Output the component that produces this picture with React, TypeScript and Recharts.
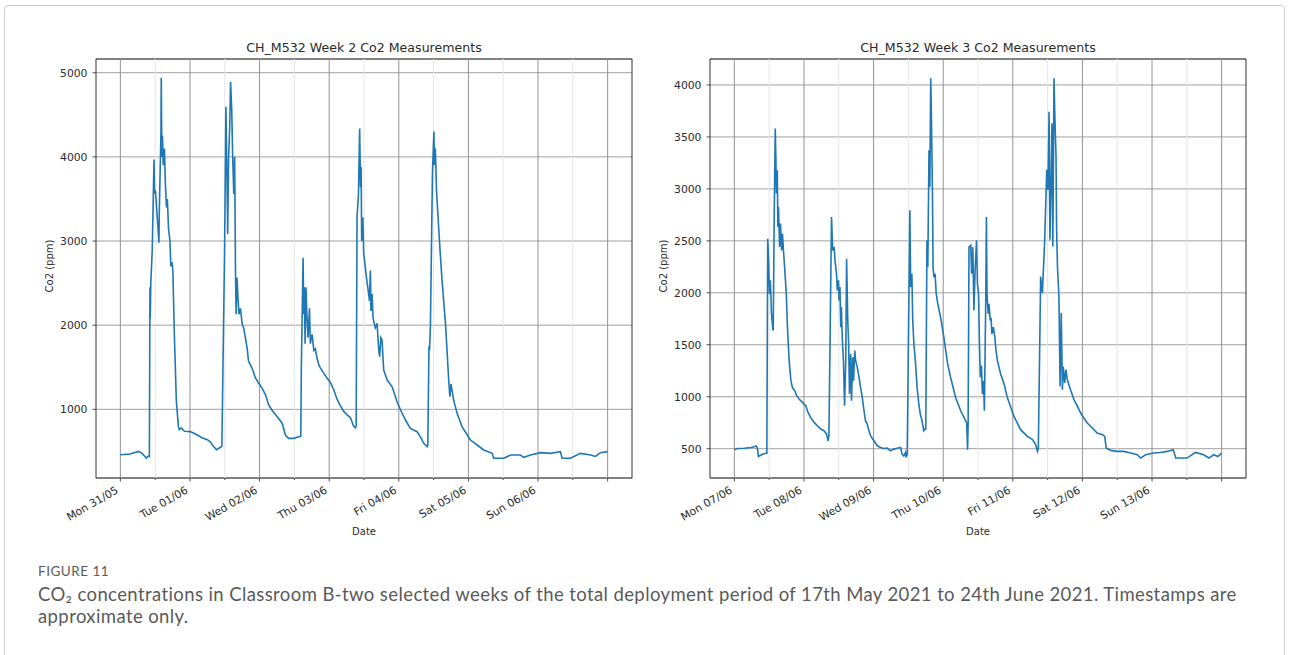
import React from "react";
import {
  LineChart,
  Line,
  XAxis,
  YAxis,
  CartesianGrid,
  ReferenceLine,
  ReferenceArea,
} from "recharts";

// hours since Monday 00:00 of each week
const majorHours = [0, 24, 48, 72, 96, 120, 144, 168];
const minorHours = [12, 36, 60, 84, 108, 132, 156];
const xDomain: [number, number] = [-8.4, 176.4];

const week2Days = ["Mon 31/05", "Tue 01/06", "Wed 02/06", "Thu 03/06", "Fri 04/06", "Sat 05/06", "Sun 06/06"];
const week3Days = ["Mon 07/06", "Tue 08/06", "Wed 09/06", "Thu 10/06", "Fri 11/06", "Sat 12/06", "Sun 13/06"];

const week2Ticks = [1000, 2000, 3000, 4000, 5000];
const week3Ticks = [500, 1000, 1500, 2000, 2500, 3000, 3500, 4000];

// [hour, ppm]
const week2Readings: [number, number][] = [
  [0, 460], [3.4, 470], [6.2, 500], [7.4, 480], [9.0, 420], [9.7, 445], [10.0, 440],
  [10.2, 2450], [10.3, 2080], [10.5, 2500], [11.0, 2900], [11.6, 3970], [11.8, 3560],
  [12.1, 3600], [13.3, 2980], [13.4, 3300], [14.0, 4300], [14.1, 4940], [14.3, 4000],
  [14.5, 4250], [14.8, 3900], [15.2, 4100], [15.5, 3700], [15.9, 3400], [16.2, 3500],
  [16.6, 3150], [17.1, 3000], [17.4, 2700], [17.8, 2750], [18.1, 2650], [18.6, 1900],
  [19.3, 1100], [20.0, 800], [20.3, 760], [21.0, 780], [22.1, 740], [24.1, 735],
  [26.2, 700], [28.3, 660], [30.0, 640], [31.0, 615], [32.1, 560], [33.1, 520],
  [34.1, 540], [35.0, 560], [35.9, 2805], [36.4, 4594], [36.8, 3640], [37.0, 3083],
  [37.3, 3960], [37.7, 4356], [38.0, 4893], [38.4, 4555], [38.7, 4038], [39.1, 3560],
  [39.4, 4000], [39.7, 2606], [39.9, 2129], [40.2, 2566], [40.6, 2300], [40.9, 2130],
  [41.4, 2200], [42.0, 2010], [42.5, 1970], [43.1, 1850], [43.7, 1730], [44.2, 1570],
  [45.4, 1490], [46.6, 1370], [47.7, 1310], [48.9, 1250], [50.0, 1175], [51.1, 1055],
  [52.3, 990], [54.0, 915], [55.8, 835], [56.9, 695], [58.0, 655], [59.8, 655],
  [61.5, 675], [62.2, 680], [62.4, 1500], [63.0, 2800], [63.2, 2130], [63.4, 2450],
  [63.7, 1780], [64.0, 2450], [64.3, 2130], [64.7, 1850], [65.2, 2200], [65.5, 1780],
  [66.1, 1890], [66.7, 1700], [67.2, 1720], [67.8, 1610], [68.4, 1530], [69.0, 1490],
  [70.1, 1430], [71.3, 1370], [72.4, 1320], [73.6, 1230], [74.7, 1120], [75.9, 1040],
  [77.0, 975], [78.2, 935], [79.3, 900], [79.9, 850], [80.4, 800], [81.0, 780],
  [81.3, 800], [81.6, 3282], [82.1, 3560], [82.5, 4336], [82.8, 3640], [83.0, 3880],
  [83.2, 3000], [83.6, 3282], [83.9, 2845], [84.2, 2765], [84.7, 2606], [85.3, 2450],
  [85.9, 2290], [86.2, 2650], [86.4, 2170], [86.8, 2370], [87.1, 2090], [87.6, 2010],
  [87.9, 1970], [88.5, 2021], [89.1, 1700], [89.4, 1625], [89.8, 1850], [90.2, 1823],
  [90.8, 1467], [92.0, 1348], [93.7, 1268], [95.4, 1090], [96.6, 992], [98.3, 873],
  [100.0, 774], [102.3, 734], [103.4, 675], [104.6, 596], [105.8, 556], [106.0, 570],
  [106.4, 1750], [106.6, 1700], [106.9, 2000], [107.6, 3800], [108.1, 4300], [108.3, 3900],
  [108.6, 4100], [109.0, 3600], [109.5, 3300], [110.2, 2900], [110.9, 2535], [112.1, 2021],
  [113.2, 1348], [113.6, 1150], [114.0, 1300], [114.9, 1110], [116.1, 952], [117.8, 793],
  [119.6, 695], [120.7, 635], [123.0, 576], [125.3, 517], [128.2, 477], [128.7, 418],
  [132.2, 418], [134.5, 457], [137.9, 457], [139.1, 430], [141.4, 457], [144.8, 485],
  [148.3, 477], [151.7, 497], [152.3, 418], [155.2, 418], [158.6, 477], [162.1, 457],
  [163.8, 440], [165.5, 485], [168.0, 497],
];

const week3Readings: [number, number][] = [
  [0, 490], [1.1, 502], [3.4, 505], [5.7, 512], [6.9, 518], [7.4, 528], [7.9, 510],
  [8.3, 426], [8.9, 435], [9.7, 447], [10.6, 454], [11.2, 455], [11.5, 2521], [11.8, 2312],
  [12.1, 1990], [12.4, 2120], [12.8, 1800], [13.2, 1670], [13.4, 1637], [13.7, 2634],
  [14.1, 3582], [14.3, 3309], [14.5, 2955], [14.8, 3180], [15.0, 2634], [15.2, 2827],
  [15.6, 2440], [15.9, 2666], [16.3, 2408], [16.6, 2569], [17.0, 2376], [17.4, 2216],
  [17.9, 1990], [18.3, 1669], [18.9, 1348], [19.5, 1155], [20.0, 1090], [20.8, 1058],
  [21.5, 1010], [22.3, 978], [23.5, 946], [24.6, 914], [25.4, 849], [26.3, 801],
  [27.5, 753], [28.6, 721], [29.8, 689], [30.9, 673], [31.8, 640], [32.3, 576],
  [32.6, 624], [33.5, 2730], [33.9, 2408], [34.4, 2440], [34.7, 2312], [35.2, 2183],
  [35.5, 2023], [35.9, 2120], [36.1, 1926], [36.4, 2055], [36.7, 1669], [36.9, 1862],
  [37.2, 1573], [37.6, 1348], [38.0, 914], [38.4, 1348], [38.7, 2328], [39.1, 1734],
  [39.4, 1508], [39.7, 1026], [40.1, 1412], [40.4, 962], [40.8, 1380], [41.1, 1155],
  [41.5, 1444], [41.8, 1348], [42.4, 1283], [43.0, 1187], [43.5, 1090], [44.1, 994],
  [44.7, 865], [45.2, 769], [45.8, 737], [46.4, 673], [47.0, 624], [48.1, 576],
  [49.3, 528], [50.4, 512], [51.5, 502], [52.7, 505], [53.8, 480], [55.0, 496],
  [56.1, 505], [57.3, 512], [57.8, 447], [58.4, 431], [59.0, 463], [59.2, 415],
  [59.6, 447], [60.5, 2794], [60.8, 2055], [61.2, 2183], [61.5, 1734], [61.9, 1508],
  [62.4, 1348], [63.0, 1090], [63.6, 930], [64.1, 833], [64.7, 769], [65.3, 673],
  [65.7, 689], [66.0, 690], [66.4, 2505], [66.7, 2248], [67.1, 3373], [67.4, 3019],
  [67.7, 4064], [67.9, 3759], [68.3, 2955], [68.5, 2248], [68.8, 2151], [69.2, 2183],
  [69.6, 1990], [70.1, 1900], [71.2, 1750], [72.3, 1560], [73.5, 1320], [74.6, 1180],
  [76.3, 990], [78.1, 860], [79.2, 800], [80.1, 747], [80.4, 490], [80.6, 740],
  [80.9, 2440], [81.5, 2457], [81.8, 2183], [82.2, 2440], [82.6, 1830], [83.0, 2216],
  [83.5, 2505], [83.8, 2087], [84.2, 1990], [84.5, 1508], [84.8, 1187], [85.2, 1300],
  [85.5, 1026], [85.9, 1150], [86.2, 865], [86.7, 1990], [86.9, 2730], [87.1, 1990],
  [87.5, 1798], [87.8, 1894], [88.2, 1734], [88.5, 1760], [88.8, 1605], [89.3, 1669],
  [89.8, 1573], [90.2, 1444], [90.7, 1348], [91.8, 1219], [93.0, 1123], [94.1, 994],
  [95.3, 898], [96.4, 810], [98.7, 683], [101.0, 618], [102.8, 587], [103.9, 538],
  [104.5, 474], [104.8, 505], [105.6, 2157], [106.2, 1997], [107.0, 2510], [107.7, 3183],
  [108.1, 2990], [108.5, 3743], [108.8, 2510], [109.2, 3087], [109.5, 3632], [109.8, 2445],
  [110.2, 4064], [110.5, 3700], [110.9, 3310], [111.1, 2606], [111.4, 2253], [111.9, 1964],
  [112.3, 1099], [112.7, 1805], [113.1, 1067], [113.4, 1291], [113.9, 1132], [114.3, 1260],
  [114.8, 1163], [115.9, 1067], [117.1, 971], [118.3, 907], [119.4, 843], [120.5, 795],
  [121.7, 747], [123.4, 699], [125.1, 651], [126.9, 635], [127.7, 618], [128.2, 507],
  [129.7, 484], [132.0, 474], [134.3, 474], [136.6, 458], [138.9, 442], [140.1, 410],
  [141.8, 442], [144.6, 458], [146.9, 464], [149.2, 474], [151.3, 490], [152.2, 410],
  [156.1, 410], [159.0, 464], [161.8, 442], [163.6, 410], [165.3, 442], [166.7, 425],
  [168.0, 458],
];

const FONT = "'DejaVu Sans', sans-serif";
const INK = "#2b2b2b";

function DayTick(props: any) {
  const { x, y, payload, labels } = props;
  const hour = payload.value as number;
  const isMajor = hour % 24 === 0;
  const label = isMajor ? labels[hour / 24] : undefined;
  const top = y - 4; // spine
  return (
    <g>
      <line x1={x} y1={top} x2={x} y2={top + (isMajor ? 3.5 : 2)} stroke={INK} strokeWidth={0.8} />
      {label && (
        <text
          x={x - 1.3}
          y={top + 14.3}
          transform={`rotate(-30 ${x - 1.3} ${top + 14.3})`}
          textAnchor="end"
          fontSize={10.8}
          fontFamily={FONT}
          fill={INK}
        >
          {label}
        </text>
      )}
    </g>
  );
}

function WeekChart({
  readings,
  days,
  yTicks,
  yDomain,
  width,
  left,
  right,
}: {
  readings: [number, number][];
  days: string[];
  yTicks: number[];
  yDomain: [number, number];
  width: number;
  left: number;
  right: number;
}) {
  const data = readings.map(([hour, ppm]) => ({ hour, ppm }));
  const allTicks = [...majorHours, ...minorHours].sort((a, b) => a - b);
  return (
    <LineChart
      width={width}
      height={560}
      data={data}
      margin={{ top: 59, right, bottom: 22, left }}
    >
      <CartesianGrid vertical={false} stroke="#a0a0a0" strokeWidth={1} />
      {minorHours.map((h) => (
        <ReferenceLine key={"mi" + h} x={h} stroke="#e6e6e6" strokeWidth={1} />
      ))}
      {majorHours.map((h) => (
        <ReferenceLine key={"ma" + h} x={h} stroke="#939393" strokeWidth={1} />
      ))}
      <XAxis
        dataKey="hour"
        type="number"
        domain={xDomain}
        allowDataOverflow
        ticks={allTicks}
        interval={0}
        height={60}
        tickSize={4}
        tickMargin={0}
        tickLine={false}
        axisLine={false}
        tick={<DayTick labels={days} />}
      />
      <YAxis
        type="number"
        domain={yDomain}
        allowDataOverflow
        ticks={yTicks}
        interval={0}
        width={50}
        tickSize={3.5}
        tickMargin={5}
        axisLine={false}
        tickLine={{ stroke: INK, strokeWidth: 0.8 }}
        tick={{ fontSize: 10.8, fill: INK, fontFamily: FONT }}
      />
      <Line
        dataKey="ppm"
        type="linear"
        stroke="#1f77b4"
        strokeWidth={1.6}
        dot={false}
        isAnimationActive={false}
      />
      <ReferenceArea
        x1={xDomain[0]}
        x2={xDomain[1]}
        y1={yDomain[0]}
        y2={yDomain[1]}
        fill="none"
        stroke="#333"
        strokeWidth={1}
        ifOverflow="visible"
      />
    </LineChart>
  );
}

const textBase: React.CSSProperties = {
  position: "absolute",
  fontFamily: FONT,
  color: INK,
  whiteSpace: "nowrap",
  textAlign: "center",
};

export default function App() {
  return (
    <div
      style={{
        position: "absolute",
        left: 0,
        top: 0,
        width: 1290,
        height: 655,
        background: "#fff",
        overflow: "hidden",
      }}
    >
      <div
        style={{
          position: "absolute",
          left: 4,
          top: 5,
          width: 1281,
          height: 700,
          border: "1px solid #cdcdcd",
          borderRadius: 4,
          boxSizing: "border-box",
        }}
      />
      <div style={{ position: "absolute", left: 0, top: 0 }}>
        <WeekChart
          readings={week2Readings}
          days={week2Days}
          yTicks={week2Ticks}
          yDomain={[184, 5163]}
          width={650}
          left={46}
          right={18}
        />
      </div>
      <div style={{ position: "absolute", left: 650, top: 0 }}>
        <WeekChart
          readings={week3Readings}
          days={week3Days}
          yTicks={week3Ticks}
          yDomain={[218, 4250]}
          width={620}
          left={10}
          right={24}
        />
      </div>

      <div style={{ ...textBase, left: 164, width: 400, top: 40, fontSize: 12.6, lineHeight: "16px" }}>
        CH_M532 Week 2 Co2 Measurements
      </div>
      <div style={{ ...textBase, left: 778, width: 400, top: 40, fontSize: 12.6, lineHeight: "16px" }}>
        CH_M532 Week 3 Co2 Measurements
      </div>

      <div style={{ ...textBase, left: 0, width: 100, top: 260, fontSize: 10, lineHeight: "12px", transform: "rotate(-90deg)" }}>
        Co2 (ppm)
      </div>
      <div style={{ ...textBase, left: 614, width: 100, top: 260, fontSize: 10, lineHeight: "12px", transform: "rotate(-90deg)" }}>
        Co2 (ppm)
      </div>

      <div style={{ ...textBase, left: 314, width: 100, top: 526, fontSize: 10, lineHeight: "12px" }}>
        Date
      </div>
      <div style={{ ...textBase, left: 928, width: 100, top: 526, fontSize: 10, lineHeight: "12px" }}>
        Date
      </div>

      <div
        style={{
          position: "absolute",
          left: 38,
          top: 564,
          fontFamily: "Lato, sans-serif",
          fontSize: 13.5,
          letterSpacing: 0.5,
          color: "#5a5a5a",
          lineHeight: "14px",
        }}
      >
        FIGURE 11
      </div>
      <div
        style={{
          position: "absolute",
          left: 38,
          top: 583,
          width: 1215,
          fontFamily: "Lato, sans-serif",
          fontSize: 18.5,
          letterSpacing: 0.4,
          color: "#5a5a5a",
          lineHeight: "22px",
        }}
      >
        CO₂ concentrations in Classroom B-two selected weeks of the total deployment period of 17th May 2021
        to 24th June 2021. Timestamps are approximate only.
      </div>
    </div>
  );
}
